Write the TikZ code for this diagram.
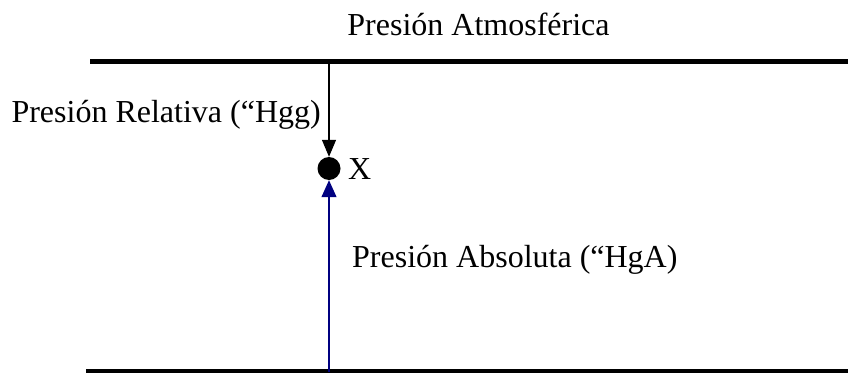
\documentclass[tikz,border=0pt]{standalone}
\usepackage{fontspec}
\setmainfont{Liberation Serif}
\usepackage{tikz}
\usetikzlibrary{arrows.meta, positioning}
\definecolor{absBlue}{RGB}{0,0,128}

\begin{document}
\begin{tikzpicture}[
		x=1pt, y=-1pt,
		%--- Node Styles ---------------------------------------------------
		lbl/.style={
			inner sep=0pt,
			font=\fontsize{32}{38}\selectfont
		},
		point/.style={
			circle,
			fill=black,
			inner sep=0pt,
			minimum size=23pt
		},
		%--- Line Styles ---------------------------------------------------
		level/.style={
			line width=5pt,
			draw=black
		},
		relarrow/.style={
			-{Triangle[length=17pt,width=14pt]},
			line width=1.3pt,
			draw=black
		},
		absarrow/.style={
			-{Triangle[length=17pt,width=15pt]},
			line width=1.3pt,
			draw=absBlue
		}
		]
		
		\useasboundingbox (0,0) rectangle (848,372);
		
		%--- Pressure Levels -------------------------------------------------
		
		\coordinate (atmL) at (90,61);
		\coordinate (atmR) at (848,61);
		\coordinate (zeroL) at (86,371.5);
		\coordinate (zeroR) at (848,371.5);
		
		\draw[level] (atmL) -- (atmR);
		\draw[level] (zeroL) -- (zeroR);
		
		\node[lbl, anchor=base] (atm) at (478.5,35) {Presión Atmosférica};
		
		%--- Measured Point --------------------------------------------------
		
		\node[point] (pt) at (329,168.5) {};
		\node[lbl, anchor=base west] (ptlbl) at (348,179) {X};
		
		%--- Pressure Arrows -------------------------------------------------
		
		\coordinate (atmA) at (329,61);
		\coordinate (zeroA) at (329,371.5);
		
		\draw[relarrow] (atmA) -- (pt.north);
		\draw[absarrow] (zeroA) -- (pt.south);
		
		\node[lbl, anchor=base east] (rel) at (321,122)
		{Presión Relativa (“Hgg)};
		
		\node[lbl, anchor=base west] (abs) at (352,267)
		{Presión Absoluta (“HgA)};
		
	\end{tikzpicture}
\end{document}
